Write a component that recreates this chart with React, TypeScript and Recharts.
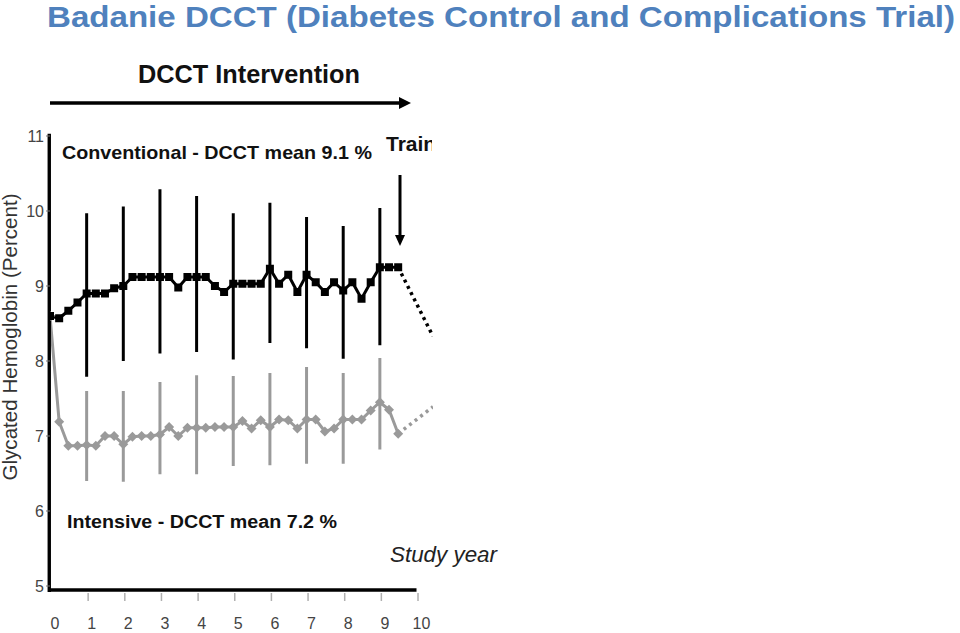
import React from 'react';
import { ComposedChart, Line, Scatter, ErrorBar, XAxis, YAxis, ReferenceLine } from 'recharts';

// Quarterly visit times (study years)
const quarterYears = [
  0, 0.25, 0.5, 0.75, 1, 1.25, 1.5, 1.75, 2, 2.25, 2.5, 2.75, 3, 3.25, 3.5, 3.75,
  4, 4.25, 4.5, 4.75, 5, 5.25, 5.5, 5.75, 6, 6.25, 6.5, 6.75, 7, 7.25, 7.5, 7.75,
  8, 8.25, 8.5, 8.75, 9, 9.25, 9.5,
];

// Conventional therapy HbA1c (%)
const conventionalHbA1c = [
  8.6, 8.57, 8.67, 8.78, 8.9, 8.9, 8.9, 8.97, 9.0, 9.12, 9.12, 9.12, 9.12, 9.12, 8.98, 9.12,
  9.12, 9.12, 9.0, 8.92, 9.03, 9.03, 9.03, 9.03, 9.23, 9.03, 9.15, 8.92, 9.15, 9.05, 8.92, 9.05,
  8.94, 9.05, 8.83, 9.05, 9.25, 9.25, 9.25,
];

// Intensive therapy HbA1c (%)
const intensiveHbA1c = [
  8.6, 7.19, 6.87, 6.87, 6.88, 6.87, 7.0, 7.0, 6.89, 6.99, 7.0, 7.0, 7.02, 7.12, 7.0, 7.11,
  7.11, 7.11, 7.12, 7.12, 7.12, 7.2, 7.1, 7.21, 7.12, 7.22, 7.21, 7.1, 7.22, 7.22, 7.06, 7.1,
  7.22, 7.22, 7.22, 7.34, 7.45, 7.35, 7.03,
];

// Yearly spread bars
const barYears = [1, 2, 3, 4, 5, 6, 7, 8, 9];
const conventionalLow = [7.79, 8.0, 8.1, 8.12, 8.02, 8.24, 8.17, 8.03, 8.21];
const conventionalHigh = [9.97, 10.06, 10.29, 10.2, 9.97, 10.11, 9.92, 9.8, 10.04];
const intensiveLow = [6.4, 6.39, 6.49, 6.49, 6.6, 6.61, 6.63, 6.63, 6.82];
const intensiveHigh = [7.6, 7.6, 7.72, 7.81, 7.8, 7.84, 7.92, 7.84, 8.04];

// Dotted continuation after DCCT end
const projectionYears = [9.5, 10.45];
const conventionalProjection = [9.25, 8.33];
const intensiveProjection = [7.03, 7.39];

const xTicks = [0, 1, 2, 3, 4, 5, 6, 7, 8, 9, 10];
const yTicks = [5, 6, 7, 8, 9, 10, 11];

const FONT = "'Liberation Sans', Arial, Helvetica, sans-serif";
const GRAY = '#9a9a9a';

const convData = quarterYears.map((x, i) => ({ x, y: conventionalHbA1c[i] }));
const intData = quarterYears.map((x, i) => ({ x, y: intensiveHbA1c[i] }));
const convBars = barYears.map((x, i) => ({ x, y: conventionalLow[i], err: [0, conventionalHigh[i] - conventionalLow[i]] }));
const intBars = barYears.map((x, i) => ({ x, y: intensiveLow[i], err: [0, intensiveHigh[i] - intensiveLow[i]] }));
const convProj = projectionYears.map((x, i) => ({ x, y: conventionalProjection[i] }));
const intProj = projectionYears.map((x, i) => ({ x, y: intensiveProjection[i] }));

const SquareDot = (props: any) => {
  const { cx, cy, index } = props;
  if (cx == null || cy == null) return <g key={`s${index}`} />;
  return <rect key={`s${index}`} x={cx - 4} y={cy - 4} width={8} height={8} fill="#000" />;
};

const DiamondDot = (props: any) => {
  const { cx, cy, index } = props;
  if (cx == null || cy == null) return <g key={`d${index}`} />;
  const r = 5;
  return (
    <polygon
      key={`d${index}`}
      points={`${cx},${cy - r} ${cx + r},${cy} ${cx},${cy + r} ${cx - r},${cy}`}
      fill={GRAY}
    />
  );
};

const XTick = (props: any) => {
  const { x, y, payload } = props;
  return (
    <g>
      {payload.value !== 0 && (
        <line x1={x + 1.5} x2={x + 1.5} y1={y + 7} y2={y + 15} stroke="#b0b0b0" strokeWidth={1.5} />
      )}
      <text x={x + 5} y={y + 43} textAnchor="middle" fontSize={16} fontFamily={FONT} fill="#444">
        {payload.value}
      </text>
    </g>
  );
};

const NoShape = () => <g />;

export default function App() {
  return (
    <div style={{ position: 'absolute', left: 0, top: 0, width: 960, height: 633, background: '#fff' }}>
      <div style={{ position: 'absolute', left: 0, top: 0 }}>
        <ComposedChart width={433} height={633} margin={{ top: 136, right: 0, bottom: 17, left: 0 }}>
          <XAxis
            dataKey="x"
            type="number"
            domain={[0, 10.45]}
            ticks={xTicks}
            interval={0}
            allowDataOverflow
            axisLine={false}
            tickLine={false}
            tickSize={0}
            tickMargin={0}
            height={30}
            tick={<XTick />}
          />
          <YAxis
            type="number"
            domain={[5, 11]}
            ticks={yTicks}
            interval={0}
            width={50}
            axisLine={false}
            tickLine={{ stroke: '#777' }}
            tickSize={4}
            tickMargin={2}
            tick={{ fill: '#444', fontSize: 16, fontFamily: FONT }}
          />
          <Scatter data={intBars} dataKey="y" shape={NoShape} isAnimationActive={false}>
            <ErrorBar dataKey="err" direction="y" width={0} stroke={GRAY} strokeWidth={3} isAnimationActive={false} />
          </Scatter>
          <Line
            data={intProj}
            dataKey="y"
            stroke={GRAY}
            strokeWidth={3.5}
            strokeDasharray="3 4"
            dot={false}
            isAnimationActive={false}
          />
          <Line
            data={intData}
            dataKey="y"
            stroke={GRAY}
            strokeWidth={3}
            dot={DiamondDot}
            activeDot={false}
            isAnimationActive={false}
          />
          <Scatter data={convBars} dataKey="y" shape={NoShape} isAnimationActive={false}>
            <ErrorBar dataKey="err" direction="y" width={0} stroke="#000" strokeWidth={3} isAnimationActive={false} />
          </Scatter>
          <Line
            data={convProj}
            dataKey="y"
            stroke="#000"
            strokeWidth={3.5}
            strokeDasharray="3 4"
            dot={false}
            isAnimationActive={false}
          />
          <Line
            data={convData}
            dataKey="y"
            stroke="#000"
            strokeWidth={3}
            dot={SquareDot}
            activeDot={false}
            isAnimationActive={false}
          />
          <ReferenceLine
            segment={[{ x: 0, y: 4.947 }, { x: 10, y: 4.947 }]}
            stroke="#000"
            strokeWidth={3.7}
            ifOverflow="visible"
          />
          <ReferenceLine
            segment={[{ x: -0.02, y: 4.92 }, { x: -0.02, y: 11.03 }]}
            stroke="#000"
            strokeWidth={3.4}
            ifOverflow="visible"
          />
        </ComposedChart>
      </div>
      <svg
        width={960}
        height={633}
        style={{ position: 'absolute', left: 0, top: 0, pointerEvents: 'none' }}
      >
        <defs>
          <clipPath id="cropRight">
            <rect x={0} y={0} width={432} height={633} />
          </clipPath>
        </defs>
        <text
          x={47}
          y={27}
          fontSize={29}
          fontWeight="bold"
          fontFamily={FONT}
          fill="#4F81BD"
          textLength={908}
          lengthAdjust="spacingAndGlyphs"
        >
          Badanie DCCT (Diabetes Control and Complications Trial)
        </text>
        <text x={138} y={83} fontSize={25} fontWeight="bold" fontFamily={FONT} fill="#111" textLength={222} lengthAdjust="spacingAndGlyphs">
          DCCT Intervention
        </text>
        <line x1={50} y1={103} x2={402} y2={103} stroke="#000" strokeWidth={3.5} />
        <polygon points="399,97 411,103 399,109" fill="#000" />
        <text x={62} y={159} fontSize={19} fontWeight="bold" fontFamily={FONT} fill="#111" textLength={310} lengthAdjust="spacingAndGlyphs">
          Conventional - DCCT mean 9.1 %
        </text>
        <g clipPath="url(#cropRight)">
          <text x={386} y={151} fontSize={21} fontWeight="bold" fontFamily={FONT} fill="#111">
            Training
          </text>
        </g>
        <line x1={400} y1={175} x2={400} y2={238} stroke="#000" strokeWidth={3} />
        <polygon points="395,235 405,235 400,246" fill="#000" />
        <text x={67} y={528} fontSize={18} fontWeight="bold" fontFamily={FONT} fill="#111" textLength={270} lengthAdjust="spacingAndGlyphs">
          Intensive - DCCT mean 7.2 %
        </text>
        <text x={390} y={562} fontSize={22} fontStyle="italic" fontFamily={FONT} fill="#222" textLength={107} lengthAdjust="spacingAndGlyphs">
          Study year
        </text>
        <text
          x={17}
          y={337}
          transform="rotate(-90, 17, 337)"
          textAnchor="middle"
          fontSize={20}
          fontFamily={FONT}
          fill="#333"
          textLength={287}
          lengthAdjust="spacingAndGlyphs"
        >
          Glycated Hemoglobin (Percent)
        </text>
      </svg>
    </div>
  );
}
